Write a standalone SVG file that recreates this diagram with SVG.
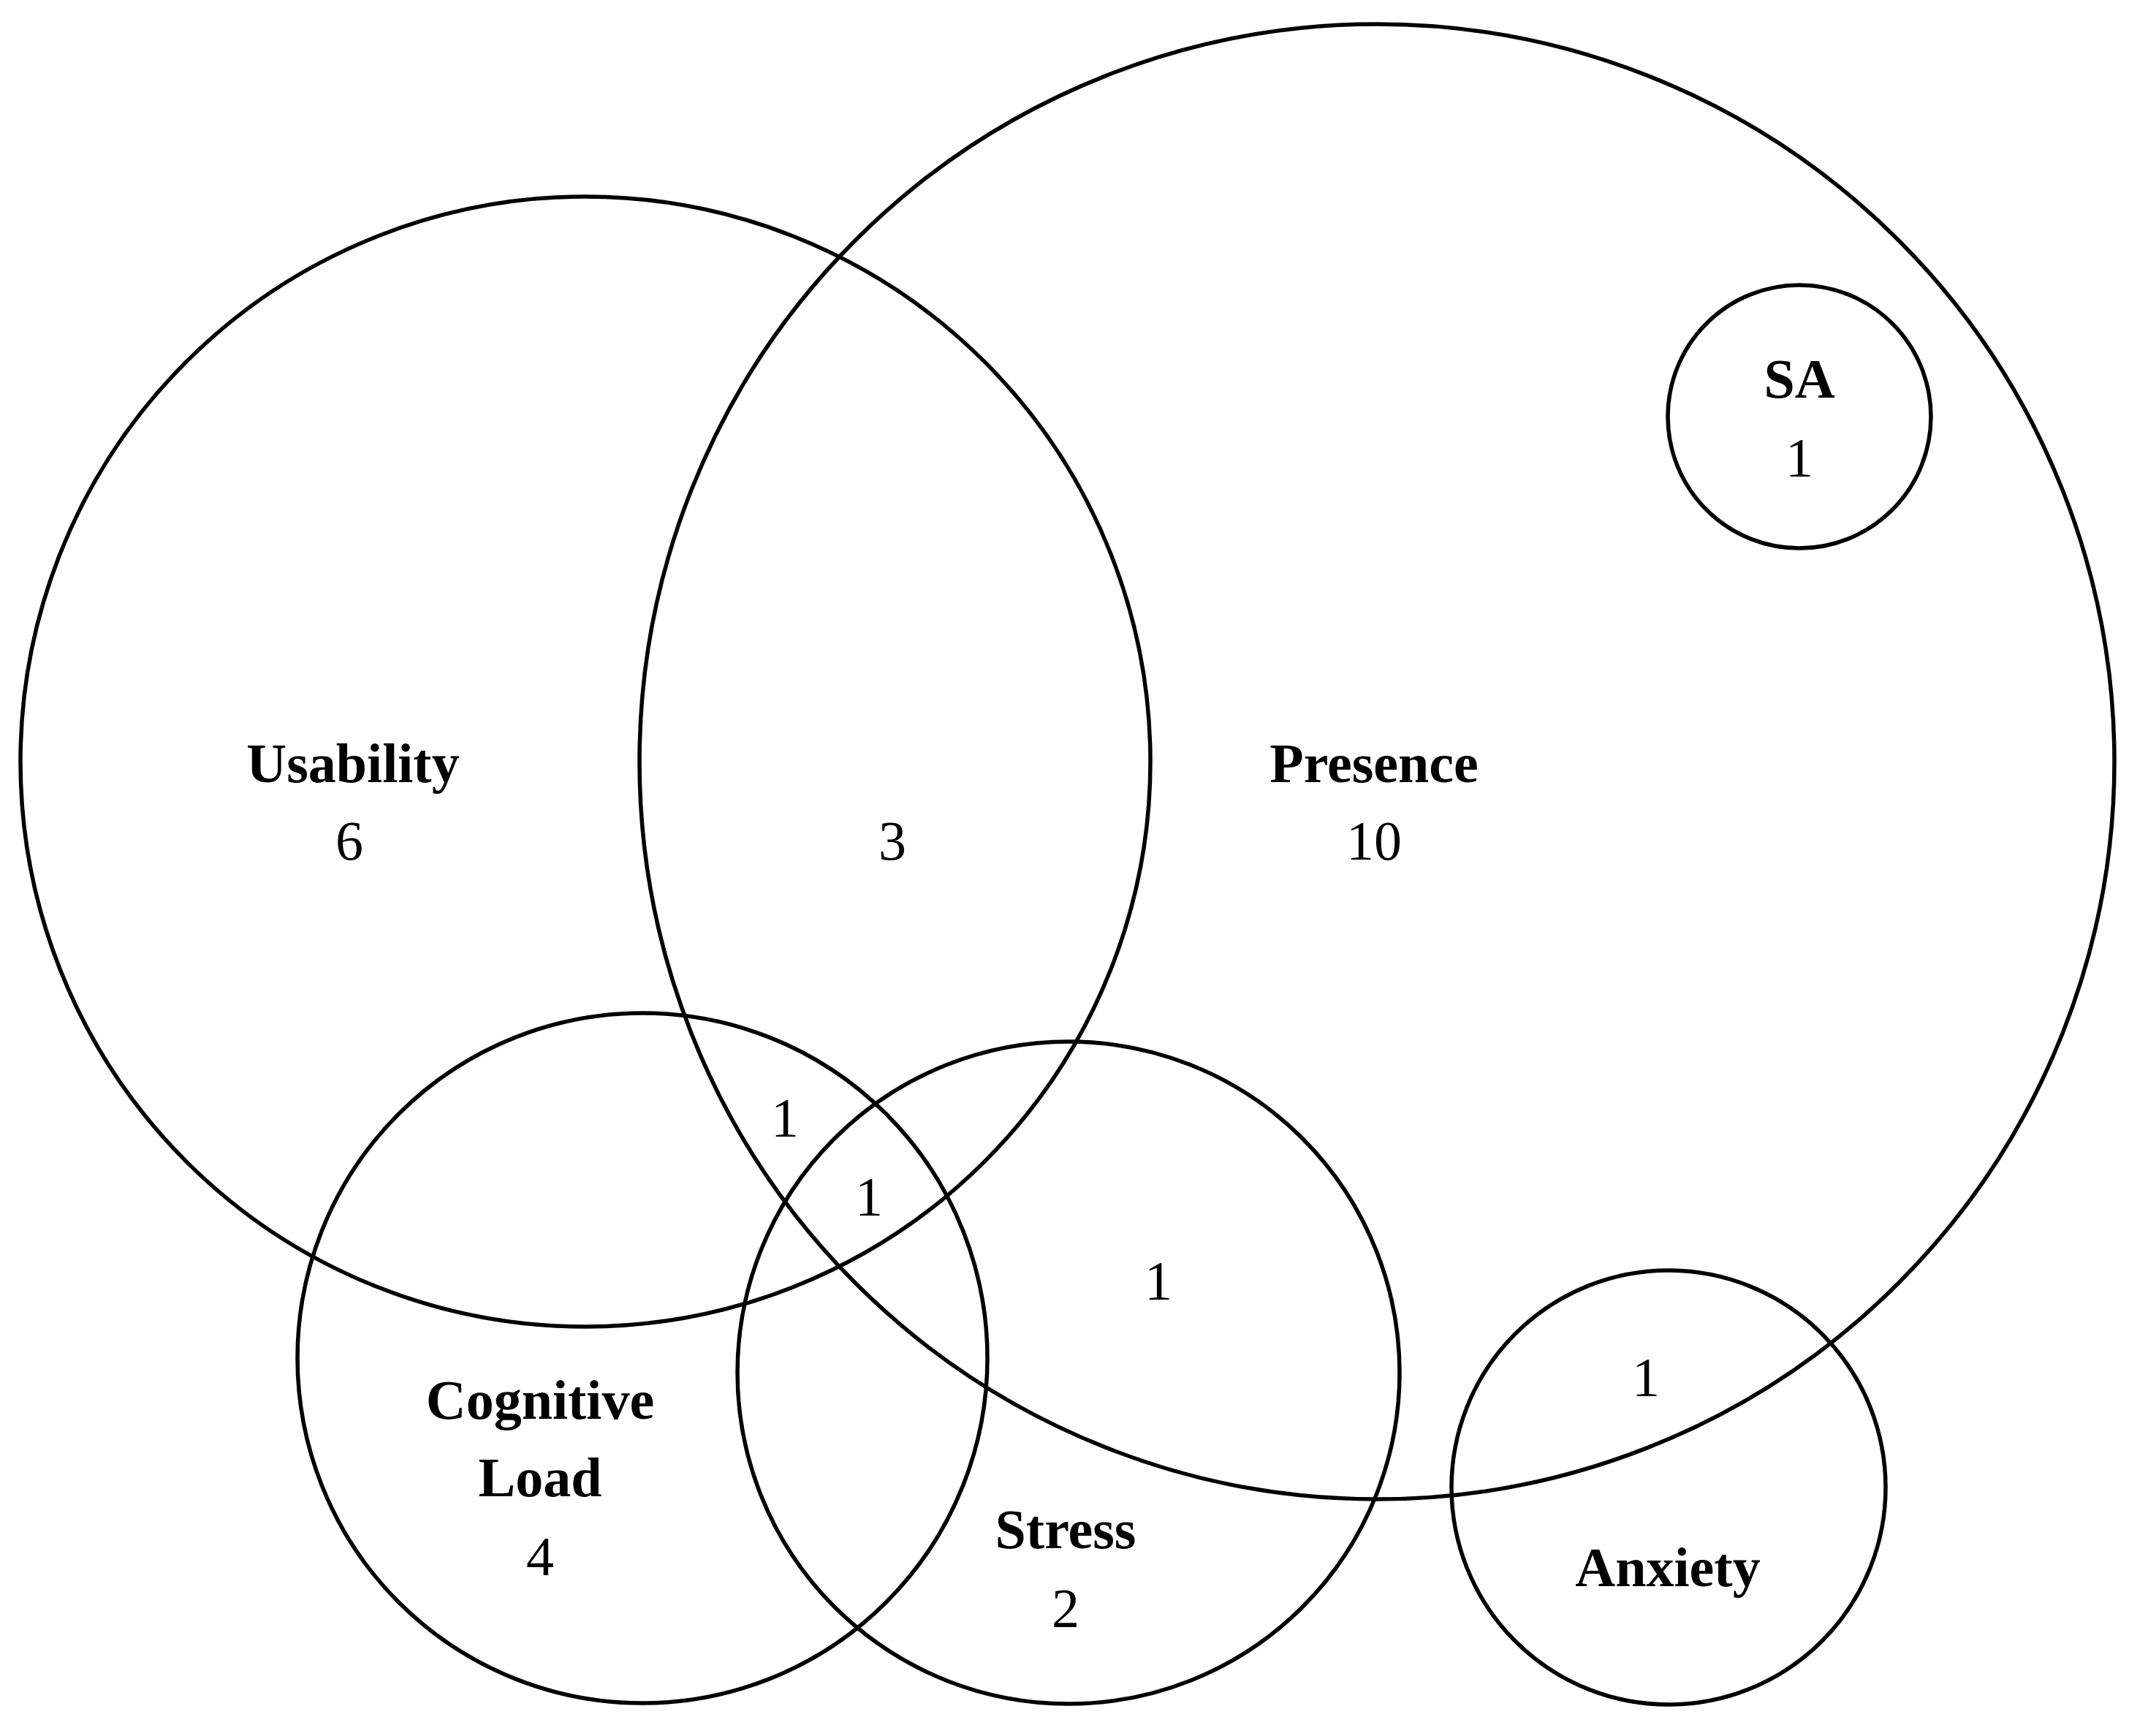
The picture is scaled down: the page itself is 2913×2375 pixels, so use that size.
<svg xmlns="http://www.w3.org/2000/svg" width="2913" height="2375" viewBox="0 0 2913 2375">
<style>
circle{fill:none;stroke:#000;stroke-width:5.5}
text{font-family:"Liberation Serif",serif;font-size:76px;text-anchor:middle;fill:#000}
.b{font-weight:bold}
</style>
<rect width="2913" height="2375" fill="#fff"/>
<g id="usability"><circle cx="801" cy="1042" r="773"/><text class="b" x="483" y="1070">Usability</text><text x="478" y="1176">6</text></g>
<g id="presence"><circle cx="1884" cy="1042" r="1009"/><text class="b" x="1880" y="1070">Presence</text><text x="1880" y="1176">10</text></g>
<g id="sa"><circle cx="2462" cy="570" r="180"/><text class="b" x="2462" y="544">SA</text><text x="2462" y="652">1</text></g>
<g id="cognitive"><circle cx="879" cy="1858" r="472"/><text class="b" x="739" y="1941">Cognitive</text><text class="b" x="739" y="2047">Load</text><text x="739" y="2155">4</text></g>
<g id="stress"><circle cx="1462" cy="1878" r="453"/><text class="b" x="1458" y="2118">Stress</text><text x="1458" y="2226">2</text></g>
<g id="anxiety"><circle cx="2283" cy="2035" r="297"/><text class="b" x="2282" y="2170">Anxiety</text></g>
<g id="overlaps"><text x="1221" y="1176">3</text><text x="1074" y="1555">1</text><text x="1189" y="1663">1</text><text x="1585" y="1778">1</text><text x="2252" y="1910">1</text></g>
<g id="connectors"/>
</svg>
